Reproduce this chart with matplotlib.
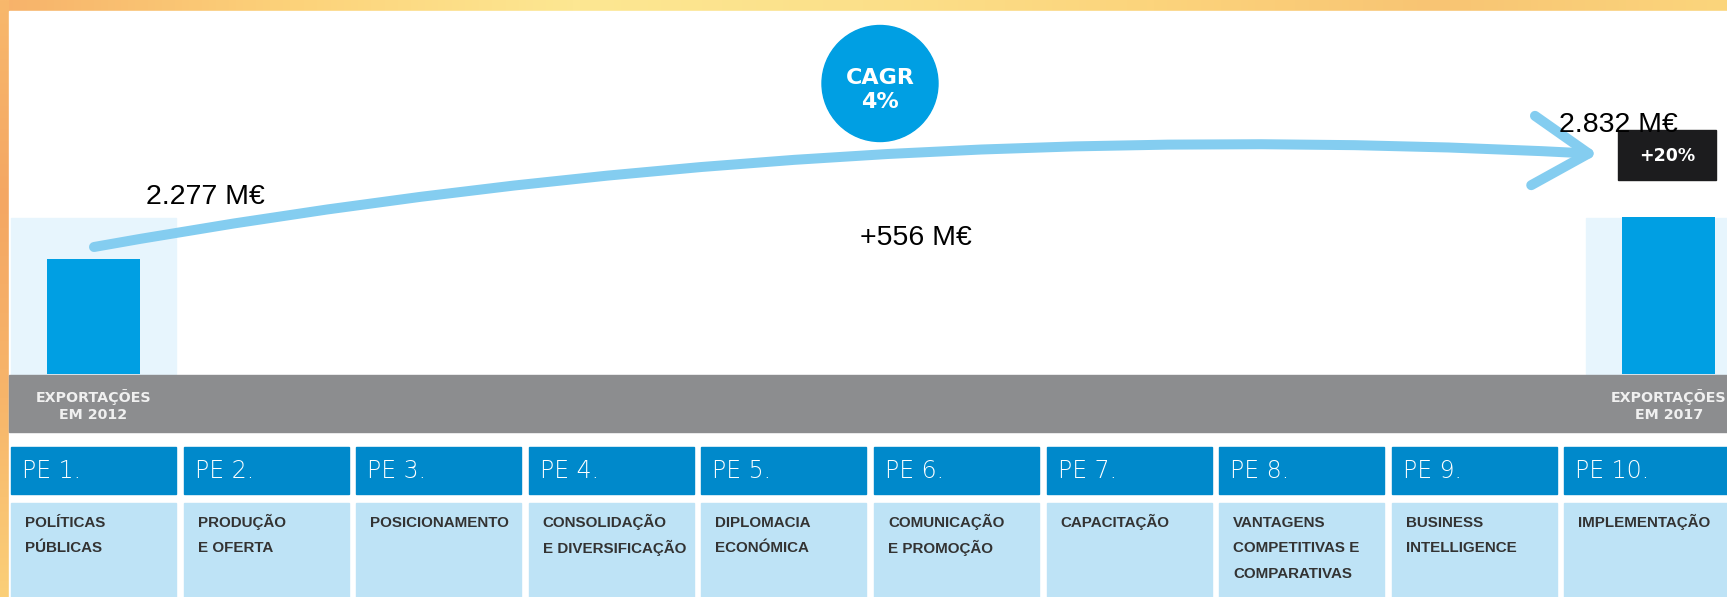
import matplotlib
matplotlib.use('Agg')
import matplotlib.pyplot as plt
import numpy as np
from matplotlib.patches import Rectangle, Circle
from matplotlib.colors import LinearSegmentedColormap

W, H = 1727, 597

# data
years = ['2012', '2017']
exports = [2277, 2832]          # M€
growth_label = '+556 M€'
cagr_label = 'CAGR\n4%'
growth_pct = '+20%'
pe_codes = ['PE 1.', 'PE 2.', 'PE 3.', 'PE 4.', 'PE 5.',
            'PE 6.', 'PE 7.', 'PE 8.', 'PE 9.', 'PE 10.']
pe_names = ['POLÍTICAS\nPÚBLICAS', 'PRODUÇÃO\nE OFERTA', 'POSICIONAMENTO',
            'CONSOLIDAÇÃO\nE DIVERSIFICAÇÃO', 'DIPLOMACIA\nECONÓMICA',
            'COMUNICAÇÃO\nE PROMOÇÃO', 'CAPACITAÇÃO',
            'VANTAGENS\nCOMPETITIVAS E\nCOMPARATIVAS',
            'BUSINESS\nINTELLIGENCE', 'IMPLEMENTAÇÃO']

# layout (pixels)
bar_x = [93.5, 1669]
bar_w = 93
baseline = 374
col_x0, col_pitch, col_w = 11, 172.6, 165

blue = '#009fe3'
head_blue = '#0089cb'
body_blue = '#bee3f6'
pale = '#e7f5fd'
arrow_blue = '#84cdf0'
grey = '#8c8d8f'


def money(v):
    return f'{v:,}'.replace(',', '.') + ' M€'


fig = plt.figure(figsize=(W / 100, H / 100), dpi=100)
fig.patch.set_facecolor('#f8c06c')

# background layer
bg = fig.add_axes([0, 0, 1, 1])
bg.axis('off')
top_cmap = LinearSegmentedColormap.from_list(
    'top', ['#f7b26a', '#fcd27a', '#fde792', '#fbe08a', '#fcd47c', '#f8c473', '#fbd57c'])
left_cmap = LinearSegmentedColormap.from_list('left', ['#f8b86c', '#f4a763', '#f7b56a', '#fbcf78'])
bg.imshow(np.linspace(0, 1, 256)[None, :], cmap=top_cmap, extent=(0, W, 11, 0), aspect='auto')
bg.imshow(np.linspace(0, 1, 256)[:, None], cmap=left_cmap, extent=(0, 9, H, 0), aspect='auto')
bg.add_patch(Rectangle((9, 11), W - 9, H - 11, color='white', zorder=2))
bg.add_patch(Rectangle((11, 218), col_w, baseline - 218, color=pale, zorder=3))
bg.add_patch(Rectangle((1586, 218), col_w, baseline - 218, color=pale, zorder=3))
bg.add_patch(Rectangle((9, 375), W - 9, 57, color=grey, zorder=3))

for i, (code, name) in enumerate(zip(pe_codes, pe_names)):
    x0 = col_x0 + i * col_pitch
    bg.add_patch(Rectangle((x0, 447), col_w, 47, color=head_blue, zorder=3))
    bg.add_patch(Rectangle((x0, 503), col_w, H - 503, color=body_blue, zorder=3))
    bg.text(x0 + 11, 471, code, color='white', fontsize=17, fontweight='light',
            family='DejaVu Sans', va='center', ha='left', zorder=4)
    for k, line in enumerate(name.split('\n')):
        bg.text(x0 + 14, 527 + k * 25.5, line, color='#333333', fontsize=10.9,
                fontweight='bold', family='Liberation Sans', va='baseline',
                ha='left', zorder=4)

for x, yr in zip(bar_x, years):
    bg.text(x, 405.5, 'EXPORTAÇÕES\nEM ' + yr, color='#f0f0f0', fontsize=10.3,
            fontweight='bold', family='DejaVu Sans', ha='center', va='center',
            multialignment='center', linespacing=1.2, zorder=4)

bg.set_xlim(0, W)
bg.set_ylim(H, 0)

# bars
ax = fig.add_axes([0, (H - baseline) / H, 1, (baseline - 11) / H])
ax.patch.set_alpha(0)
ax.axis('off')
ax.bar(bar_x, exports, width=bar_w, color=blue)
ax.set_xlim(0, W)
ax.set_ylim(757, 5554)

# annotations
top = fig.add_axes([0, 0, 1, 1])
top.patch.set_alpha(0)
top.axis('off')
top.set_xlim(0, W)
top.set_ylim(H, 0)

top.annotate('', xy=(1598, 154), xytext=(94, 247),
             arrowprops=dict(arrowstyle='->,head_length=40,head_width=25',
                             mutation_scale=1, connectionstyle='arc3,rad=-0.058',
                             color=arrow_blue, lw=7.2, capstyle='round',
                             joinstyle='round', shrinkA=0, shrinkB=0))

top.add_patch(Circle((880, 83.5), 58, color=blue))
top.text(880, 90, cagr_label, color='white', fontsize=16, fontweight='bold',
         family='DejaVu Sans', ha='center', va='center', linespacing=1.2)

top.add_patch(Rectangle((1618, 130), 98, 50, color='#1c1c1e'))
top.text(1667, 156, growth_pct, color='white', fontsize=12.5, fontweight='bold',
         family='DejaVu Sans', ha='center', va='center')

top.text(205, 197, money(exports[0]), fontsize=20.5, family='Liberation Sans',
         color='black', ha='center', va='center')
top.text(1618, 125, money(exports[1]), fontsize=20.5, family='Liberation Sans',
         color='black', ha='center', va='center')
top.text(916, 238, growth_label, fontsize=20.5, family='Liberation Sans',
         color='black', ha='center', va='center')

fig.savefig('out.png', dpi=100, facecolor=fig.get_facecolor())
